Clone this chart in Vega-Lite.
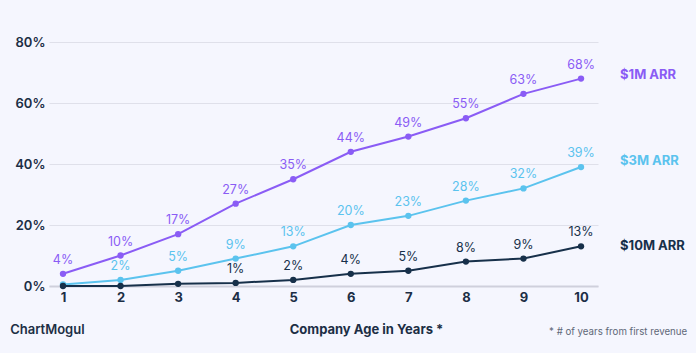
{
  "$schema": "https://vega.github.io/schema/vega-lite/v6.json",
  "width": 549,
  "height": 244,
  "autosize": "none",
  "padding": {"left": 49, "top": 42, "right": 98, "bottom": 67},
  "background": "#f5f6fe",
  "config": {
    "view": {"stroke": null},
    "font": "Inter",
    "axis": {"labelFont": "Inter", "titleFont": "Inter"}
  },
  "datasets": {
    "pts": [
      {"x": 1, "series": "$1M ARR", "value": 4, "label": "4%"},
      {"x": 2, "series": "$1M ARR", "value": 10, "label": "10%"},
      {"x": 3, "series": "$1M ARR", "value": 17, "label": "17%"},
      {"x": 4, "series": "$1M ARR", "value": 27, "label": "27%"},
      {"x": 5, "series": "$1M ARR", "value": 35, "label": "35%"},
      {"x": 6, "series": "$1M ARR", "value": 44, "label": "44%"},
      {"x": 7, "series": "$1M ARR", "value": 49, "label": "49%"},
      {"x": 8, "series": "$1M ARR", "value": 55, "label": "55%"},
      {"x": 9, "series": "$1M ARR", "value": 63, "label": "63%"},
      {"x": 10, "series": "$1M ARR", "value": 68, "label": "68%"},
      {"x": 1, "series": "$3M ARR", "value": 0.5, "label": ""},
      {"x": 2, "series": "$3M ARR", "value": 2, "label": "2%"},
      {"x": 3, "series": "$3M ARR", "value": 5, "label": "5%"},
      {"x": 4, "series": "$3M ARR", "value": 9, "label": "9%"},
      {"x": 5, "series": "$3M ARR", "value": 13, "label": "13%"},
      {"x": 6, "series": "$3M ARR", "value": 20, "label": "20%"},
      {"x": 7, "series": "$3M ARR", "value": 23, "label": "23%"},
      {"x": 8, "series": "$3M ARR", "value": 28, "label": "28%"},
      {"x": 9, "series": "$3M ARR", "value": 32, "label": "32%"},
      {"x": 10, "series": "$3M ARR", "value": 39, "label": "39%"},
      {"x": 1, "series": "$10M ARR", "value": 0, "label": ""},
      {"x": 2, "series": "$10M ARR", "value": 0, "label": ""},
      {"x": 3, "series": "$10M ARR", "value": 0.7, "label": ""},
      {"x": 4, "series": "$10M ARR", "value": 1, "label": "1%"},
      {"x": 5, "series": "$10M ARR", "value": 2, "label": "2%"},
      {"x": 6, "series": "$10M ARR", "value": 4, "label": "4%"},
      {"x": 7, "series": "$10M ARR", "value": 5, "label": "5%"},
      {"x": 8, "series": "$10M ARR", "value": 8, "label": "8%"},
      {"x": 9, "series": "$10M ARR", "value": 9, "label": "9%"},
      {"x": 10, "series": "$10M ARR", "value": 13, "label": "13%"}
    ],
    "names": [
      {"x": 10, "series": "$1M ARR", "value": 69.3},
      {"x": 10, "series": "$3M ARR", "value": 41},
      {"x": 10, "series": "$10M ARR", "value": 13}
    ],
    "notes": [
      {"text": "ChartMogul"}
    ],
    "foot": [
      {"text": "* # of years from first revenue"}
    ]
  },
  "layer": [
    {
      "data": {"name": "pts"},
      "mark": {"type": "line", "strokeWidth": 2},
      "encoding": {
        "x": {"field": "x", "type": "quantitative",
          "scale": {"domain": [0.757, 10.295], "nice": false, "zero": false},
          "axis": {"values": [1,2,3,4,5,6,7,8,9,10], "format": "d", "grid": false, "ticks": false,
            "domainColor": "#cfd0dc", "domainWidth": 2,
            "labelFontSize": 13, "labelFontWeight": "bold", "labelColor": "#1c2e45", "labelPadding": 5,
            "title": "Company Age in Years *", "titleFontSize": 13, "titleFontWeight": "bold", "titleColor": "#1c2e45",
            "titleX": 317, "titleY": 43, "titleAlign": "center", "titleBaseline": "middle"}},
        "y": {"field": "value", "type": "quantitative",
          "scale": {"domain": [0, 80], "nice": false},
          "axis": {"values": [0,20,40,60,80], "labelExpr": "datum.value + '%'", "domain": false, "ticks": false,
            "gridColor": "#dfe0ea", "gridWidth": 1,
            "labelFontSize": 13, "labelFontWeight": 600, "labelColor": "#1c2e45", "labelPadding": 4,
            "title": null}},
        "color": {"field": "series", "type": "nominal",
          "scale": {"domain": ["$1M ARR", "$3M ARR", "$10M ARR"], "range": ["#8a5cf5", "#5bc3ee", "#17304a"]},
          "legend": null}
      }
    },
    {
      "data": {"name": "pts"},
      "mark": {"type": "point", "filled": true, "size": 40, "opacity": 1},
      "encoding": {
        "x": {"field": "x", "type": "quantitative"},
        "y": {"field": "value", "type": "quantitative"},
        "color": {"field": "series", "type": "nominal", "legend": null}
      }
    },
    {
      "data": {"name": "pts"},
      "mark": {"type": "text", "fontSize": 12.5, "baseline": "bottom", "dy": -7},
      "encoding": {
        "x": {"field": "x", "type": "quantitative"},
        "y": {"field": "value", "type": "quantitative"},
        "text": {"field": "label"},
        "color": {"field": "series", "type": "nominal", "legend": null}
      }
    },
    {
      "data": {"name": "names"},
      "mark": {"type": "text", "fontSize": 13, "fontWeight": "bold", "align": "left", "baseline": "middle", "dx": 39},
      "encoding": {
        "x": {"field": "x", "type": "quantitative"},
        "y": {"field": "value", "type": "quantitative"},
        "text": {"field": "series"},
        "color": {"field": "series", "type": "nominal", "legend": null}
      }
    },
    {
      "data": {"name": "notes"},
      "mark": {"type": "text", "fontSize": 13, "fontWeight": 600, "align": "left", "baseline": "middle", "color": "#1c2e45", "clip": false},
      "encoding": {"x": {"datum": 0.082}, "y": {"datum": -14.4}, "text": {"field": "text"}}
    },
    {
      "data": {"name": "foot"},
      "mark": {"type": "text", "fontSize": 9.7, "align": "right", "baseline": "middle", "color": "#5f6878", "clip": false},
      "encoding": {"x": {"datum": 11.844}, "y": {"datum": -15.1}, "text": {"field": "text"}}
    }
  ]
}
